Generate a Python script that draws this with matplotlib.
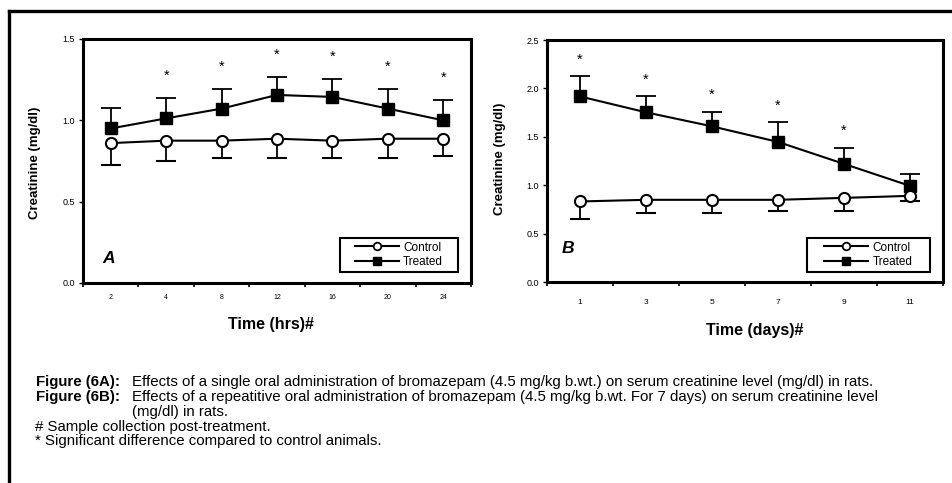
import matplotlib
matplotlib.use('Agg')
import matplotlib.pyplot as plt
from matplotlib.lines import Line2D
from matplotlib.patches import Rectangle
import numpy as np

plt.rcParams['font.family'] = ['Liberation Sans', 'DejaVu Sans']

# ---------------- data ----------------
# Panel A: single dose, time in hours
hours = ['2', '4', '8', '12', '16', '20', '24']
ctrl_a = [0.86, 0.875, 0.875, 0.887, 0.875, 0.887, 0.887]
ctrl_a_err = [0.133, 0.123, 0.109, 0.121, 0.109, 0.121, 0.109]
trt_a = [0.95, 1.012, 1.072, 1.156, 1.144, 1.072, 1.0]
trt_a_err = [0.123, 0.123, 0.123, 0.113, 0.113, 0.123, 0.123]
sig_a = [False, True, True, True, True, True, True]

# Panel B: repeated dose, time in days
days = ['1', '3', '5', '7', '9', '11']
ctrl_b = [0.832, 0.849, 0.849, 0.849, 0.869, 0.890]
ctrl_b_err = [0.186, 0.141, 0.141, 0.120, 0.140, 0.058]
trt_b = [1.917, 1.753, 1.608, 1.447, 1.220, 0.993]
trt_b_err = [0.207, 0.164, 0.151, 0.206, 0.168, 0.127]
sig_b = [True, True, True, True, True, False]

series_names = ['Control', 'Treated']
ylabel_text = 'Creatinine (mg/dl)'

W, H = 952, 483
fig = plt.figure(figsize=(W / 100, H / 100), dpi=100)


def fx(x):
    return x / W


def fy(y):
    return 1 - y / H


def panel(rect_px, labels, ctrl, ctrl_err, trt, trt_err, sig, ymax,
          xtick_fs, xtick_pad, star_off, letter, letter_pos, leg_box):
    l, t, r, b = rect_px
    ax = fig.add_axes([fx(l), fy(b), fx(r) - fx(l), fy(t) - fy(b)])
    n = len(labels)
    x = np.arange(n)
    trt = np.array(trt)
    ctrl = np.array(ctrl)
    trt_err = np.array(trt_err)
    ctrl_err = np.array(ctrl_err)
    zeros = np.zeros(n)

    eb_t = ax.errorbar(x, trt, yerr=[zeros, trt_err], fmt='-s', color='black',
                       mfc='black', mec='black', ms=8, lw=1.5,
                       elinewidth=1.3, capsize=7, capthick=1.3, zorder=3)
    eb_t[1][0].set_visible(False)
    eb_c = ax.errorbar(x, ctrl, yerr=[ctrl_err, zeros], fmt='-o', color='black',
                       mfc='white', mec='black', mew=1.5, ms=8, lw=1.5,
                       elinewidth=1.3, capsize=7, capthick=1.3, zorder=4)
    eb_c[1][1].set_visible(False)

    for xi, yi, ei, s in zip(x, trt, trt_err, sig):
        if s:
            ax.annotate('*', xy=(xi, yi + ei), xytext=(0, star_off),
                        textcoords='offset points', ha='center', va='center',
                        fontsize=10.5)

    ax.set_xlim(-0.5, n - 0.5)
    ax.set_ylim(0, ymax)
    ax.set_xticks(x)
    ax.set_xticklabels(labels, fontsize=xtick_fs)
    ax.set_xticks(np.arange(n + 1) - 0.5, minor=True)
    ax.tick_params(axis='x', which='major', length=0, pad=xtick_pad)
    ax.tick_params(axis='x', which='minor', length=3, width=1.2, direction='out')
    yt = np.arange(0, ymax + 0.01, 0.5)
    ax.set_yticks(yt)
    ax.set_yticklabels(['%.1f' % v for v in yt], fontsize=6.5)
    ax.tick_params(axis='y', length=3, width=1, direction='out', pad=3)
    for sp in ax.spines.values():
        sp.set_linewidth(2.2)

    ax.text(letter_pos[0], letter_pos[1], letter, transform=ax.transAxes,
            fontsize=12.5, fontweight='bold', fontstyle='italic',
            ha='center', va='center')

    handles = [Line2D([], [], color='black', lw=1.5, marker='o', mfc='white',
                      mec='black', mew=1.3, ms=5.5),
               Line2D([], [], color='black', lw=1.5, marker='s', mfc='black',
                      mec='black', ms=5.5)]
    bx0, by0, bx1, by1 = leg_box
    cx = ((bx0 + bx1) / 2 - l) / (r - l)
    cy = (b - (by0 + by1) / 2) / (b - t)
    ax.legend(handles, series_names, loc='center', bbox_to_anchor=(cx, cy),
              frameon=False, fontsize=8.5, handlelength=3.7,
              handletextpad=0.4, labelspacing=0.25, borderpad=0,
              borderaxespad=0)
    ax.add_patch(Rectangle(((bx0 - l) / (r - l), (b - by1) / (b - t)),
                           (bx1 - bx0) / (r - l), (by1 - by0) / (b - t),
                           transform=ax.transAxes, fill=False,
                           edgecolor='black', lw=1.5, zorder=5,
                           clip_on=False))
    return ax


ax_a = panel((83, 39, 471, 283), hours, ctrl_a, ctrl_a_err, trt_a, trt_a_err,
             sig_a, 1.5, 5, 8, 16, 'A', (0.066, 0.102), (340, 238, 458, 272))
ax_b = panel((547, 40, 943, 282), days, ctrl_b, ctrl_b_err, trt_b, trt_b_err,
             sig_b, 2.5, 6, 12, 12, 'B', (0.054, 0.14), (807, 238, 930, 272))

# axis titles
fig.text(fx(35), fy(163), ylabel_text, rotation=90, fontsize=9.5,
         fontweight='bold', ha='center', va='center')
fig.text(fx(500), fy(159), ylabel_text, rotation=90, fontsize=9.5,
         fontweight='bold', ha='center', va='center')
fig.text(fx(271), fy(325), 'Time (hrs)#', fontsize=11.5, fontweight='bold',
         ha='center', va='center')
fig.text(fx(755), fy(331), 'Time (days)#', fontsize=11.5, fontweight='bold',
         ha='center', va='center')

# caption
cap_fs = 10.8
fig.text(fx(36), fy(382), 'Figure (6A):', fontsize=cap_fs, fontweight='bold',
         ha='left', va='center')
fig.text(fx(132), fy(382),
         'Effects of a single oral administration of bromazepam (4.5 mg/kg b.wt.) '
         'on serum creatinine level (mg/dl) in rats.',
         fontsize=cap_fs, ha='left', va='center')
fig.text(fx(36), fy(397), 'Figure (6B):', fontsize=cap_fs, fontweight='bold',
         ha='left', va='center')
fig.text(fx(132), fy(397),
         'Effects of a repeatitive oral administration of bromazepam (4.5 mg/kg b.wt. '
         'For 7 days) on serum creatinine level',
         fontsize=cap_fs, ha='left', va='center')
fig.text(fx(132), fy(412), '(mg/dl) in rats.', fontsize=cap_fs,
         ha='left', va='center')
fig.text(fx(35), fy(427), '# Sample collection post-treatment.',
         fontsize=cap_fs, ha='left', va='center')
fig.text(fx(35), fy(441), '* Significant difference compared to control animals.',
         fontsize=cap_fs, ha='left', va='center')

# outer frame (left and top edges)
fig.add_artist(Line2D([fx(9), fx(9)], [0, fy(11)], transform=fig.transFigure,
                      color='black', lw=2.4))
fig.add_artist(Line2D([fx(9), 1], [fy(11), fy(11)], transform=fig.transFigure,
                      color='black', lw=2.4))

fig.savefig('out.png', dpi=100)
